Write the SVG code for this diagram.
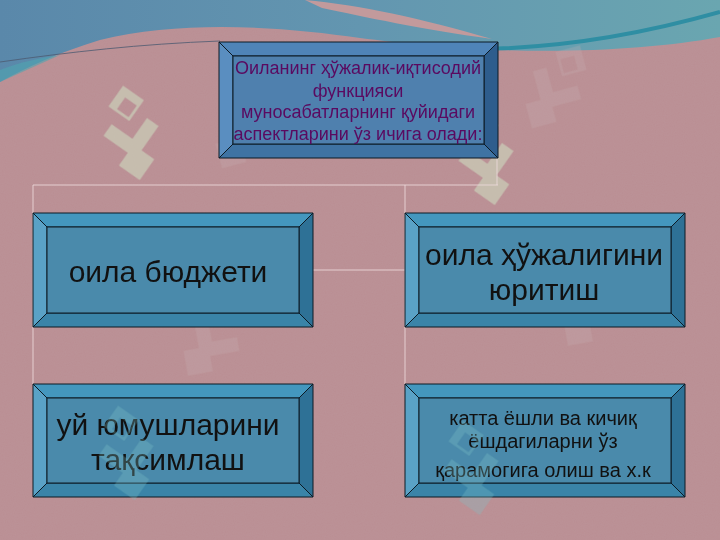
<svg xmlns="http://www.w3.org/2000/svg" width="720" height="540" viewBox="0 0 720 540">
<defs>
<linearGradient id="sky" x1="0" y1="0" x2="1" y2="0">
<stop offset="0" stop-color="#5a88aa"/>
<stop offset="0.5" stop-color="#6396b0"/>
<stop offset="1" stop-color="#6aa6b0"/>
</linearGradient>
<filter id="noise" x="0" y="0" width="100%" height="100%">
<feTurbulence type="fractalNoise" baseFrequency="0.9" numOctaves="2" seed="3" result="n"/>
<feColorMatrix in="n" type="matrix" values="0 0 0 0 0.55  0 0 0 0 0.4  0 0 0 0 0.42  0 0 0 0.18 0"/>
</filter>
<g id="wm">
<path d="M0,-40 L18,-22 L0,-4 L-18,-22 Z M0,-28 L-10,-18 L0,-8 L10,-18 Z" fill-rule="evenodd"/>
<path d="M-18,-4 L0,14 L18,-4 L28,6 L0,34 L-28,6 Z"/>
<path d="M0,20 L18,38 L0,56 L-18,38 Z"/>
</g>
<style>
.top{fill:#4497be}.lft{fill:#5aa2c6}.rgt{fill:#2e7196}.bot{fill:#3a84a8}.ctr{fill:#4a8aab}
.ttop{fill:#4f84b8}.tlft{fill:#5a8ec0}.trgt{fill:#2e5d8d}.tbot{fill:#3f73a3}.tctr{fill:#4f80ae}
.edge{stroke:#0d1a24;stroke-width:1;stroke-linejoin:miter}
.txt{font-family:"Liberation Sans",Arial,sans-serif;fill:#111;text-anchor:middle}
.ttl{font-family:"Liberation Sans",Arial,sans-serif;fill:#5a0a60;text-anchor:middle;font-size:18px}
.conn{stroke:#ecd9da;stroke-width:1;fill:none;opacity:0.85}
</style>
</defs>
<g id="background">
<rect width="720" height="540" fill="#ba8e93"/>
<rect width="720" height="540" filter="url(#noise)"/>
<path d="M0,0 H720 V37 C660,48 580,53 500,50 C440,48 400,43 360,38 C280,26 180,20 100,40 C60,52 25,68 0,82 Z" fill="url(#sky)"/>
<path d="M0,70 C20,62 40,58 60,55 L0,82 Z" fill="#4ea5b0" opacity="0.6"/>
<path d="M305,0 C360,5 420,18 492,39 C420,29 365,17 322,8 Z" fill="#c29a9c"/>
<path d="M420,47 C500,53 600,46 720,12" stroke="#2f8ea3" stroke-width="4" fill="none"/>
<path d="M0,62 C70,52 140,44 220,41" stroke="#4c5a70" stroke-width="1" fill="none" opacity="0.8"/>
<g fill="#cfe2c4" opacity="0.55">
<use href="#wm" transform="translate(130,125) rotate(-10)"/>
<use href="#wm" transform="translate(485,150) rotate(-10)"/>
</g>
<g fill="#c9b2b4" opacity="0.25">
<use href="#wm" transform="translate(250,120) rotate(30)"/>
<use href="#wm" transform="translate(560,80) rotate(30)"/>
<use href="#wm" transform="translate(220,330) rotate(35)"/>
<use href="#wm" transform="translate(600,300) rotate(35)"/>
</g>
</g>
<g id="connectors">
<path class="conn" d="M497,158 V185 M33,185 H498 M33,185 V384 M405,185 V384 M313,270 H405"/>
</g>
<g id="node-top">
<polygon class="ttop edge" points="219,42 498,42 484,56 233,56"/>
<polygon class="trgt edge" points="498,42 498,158 484,144 484,56"/>
<polygon class="tbot edge" points="219,158 498,158 484,144 233,144"/>
<polygon class="tlft edge" points="219,42 233,56 233,144 219,158"/>
<rect class="tctr edge" x="233" y="56" width="251" height="88"/>
<text class="ttl" x="358" y="74">Оиланинг ҳўжалик-иқтисодий</text>
<text class="ttl" x="358" y="97">функцияси</text>
<text class="ttl" x="358" y="118">муносабатларнинг қуйидаги</text>
<text class="ttl" x="358" y="140">аспектларини ўз ичига олади:</text>
</g>
<g id="node-budget">
<polygon class="top edge" points="33,213 313,213 299,227 47,227"/>
<polygon class="rgt edge" points="313,213 313,327 299,313 299,227"/>
<polygon class="bot edge" points="33,327 313,327 299,313 47,313"/>
<polygon class="lft edge" points="33,213 47,227 47,313 33,327"/>
<rect class="ctr edge" x="47" y="227" width="252" height="86"/>
<text class="txt" x="168" y="282" font-size="30">оила бюджети</text>
</g>
<g id="node-household">
<polygon class="top edge" points="405,213 685,213 671,227 419,227"/>
<polygon class="rgt edge" points="685,213 685,327 671,313 671,227"/>
<polygon class="bot edge" points="405,327 685,327 671,313 419,313"/>
<polygon class="lft edge" points="405,213 419,227 419,313 405,327"/>
<rect class="ctr edge" x="419" y="227" width="252" height="86"/>
<text class="txt" x="544" y="265" font-size="30">оила ҳўжалигини</text>
<text class="txt" x="544" y="300" font-size="30">юритиш</text>
</g>
<g id="node-chores">
<polygon class="top edge" points="33,384 313,384 299,398 47,398"/>
<polygon class="rgt edge" points="313,384 313,497 299,483 299,398"/>
<polygon class="bot edge" points="33,497 313,497 299,483 47,483"/>
<polygon class="lft edge" points="33,384 47,398 47,483 33,497"/>
<rect class="ctr edge" x="47" y="398" width="252" height="85"/>
<text class="txt" x="168" y="435" font-size="30">уй юмушларини</text>
<text class="txt" x="168" y="470" font-size="30">тақсимлаш</text>
</g>
<g id="node-care">
<polygon class="top edge" points="405,384 685,384 671,398 419,398"/>
<polygon class="rgt edge" points="685,384 685,497 671,483 671,398"/>
<polygon class="bot edge" points="405,497 685,497 671,483 419,483"/>
<polygon class="lft edge" points="405,384 419,398 419,483 405,497"/>
<rect class="ctr edge" x="419" y="398" width="252" height="85"/>
<text class="txt" x="543" y="425" font-size="20">катта ёшли ва кичиқ</text>
<text class="txt" x="543" y="448" font-size="20">ёшдагиларни ўз</text>
<text class="txt" x="543" y="477" font-size="20">қарамогига олиш ва х.к</text>
</g>
<g fill="#7fc4c8" opacity="0.3">
<use href="#wm" transform="translate(125,445) rotate(-10)"/>
<use href="#wm" transform="translate(470,460) rotate(-10)"/>
</g>
</svg>
